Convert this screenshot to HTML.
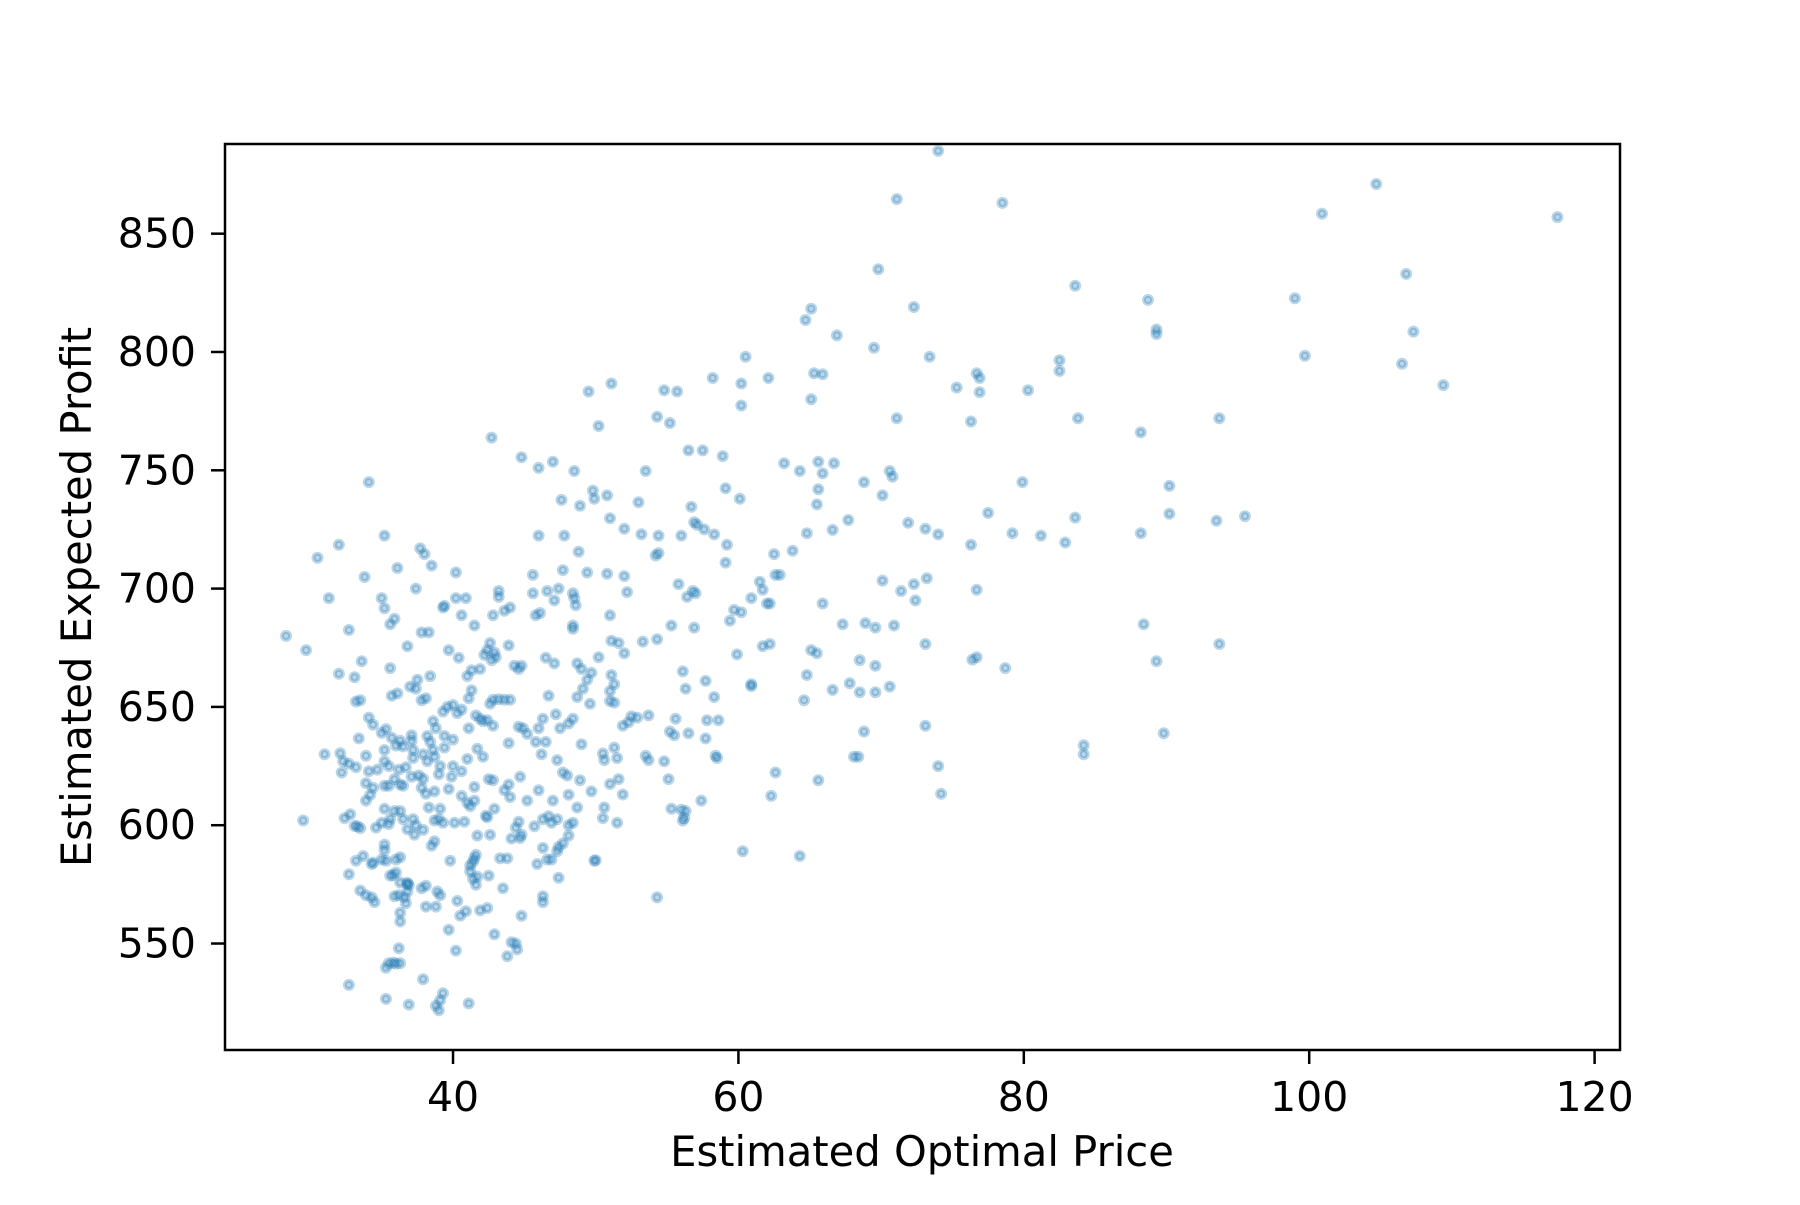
<!DOCTYPE html>
<html><head><meta charset="utf-8"><style>
html,body{margin:0;padding:0;background:#fff;}
svg text{font-family:"DejaVu Sans","Liberation Sans",sans-serif;fill:#000;}
</style></head><body>
<svg id="chart" width="1800" height="1200" viewBox="0 0 1800 1200" xmlns="http://www.w3.org/2000/svg">
<rect x="0" y="0" width="1800" height="1200" fill="#fff"/>
<g id="points"></g>
<rect x="225" y="144" width="1395" height="906" fill="none" stroke="#000" stroke-width="2.5"/>
<g id="xticks"></g>
<g id="yticks"></g>
<text x="922" y="1166" font-size="41.7" text-anchor="middle">Estimated Optimal Price</text>
<text x="0" y="0" font-size="41.7" text-anchor="middle" transform="translate(91,597) rotate(-90)">Estimated Expected Profit</text>
</svg>
<script>
const xTickValues = [40, 60, 80, 100, 120];
const yTickValues = [550, 600, 650, 700, 750, 800, 850];
const priceX = [71.1,74.0,78.5,104.7,100.9,117.4,69.8,106.8,83.6,99.0,88.7,72.3,65.1,64.7,89.3,89.3,107.3,66.9,60.5,69.5,73.4,99.7,82.5,82.5,106.5,65.3,65.9,76.7,76.9,58.2,62.1,51.1,60.2,75.3,109.4,80.3,76.9,49.5,54.8,55.7,65.1,60.2,54.3,55.2,71.1,83.8,93.7,76.3,50.2,88.2,42.7,56.5,57.5,44.8,58.9,47.0,63.2,65.6,66.7,46.0,65.9,48.5,53.5,64.3,70.6,70.8,79.9,68.8,90.2,34.1,59.1,49.8,49.9,65.6,50.8,70.1,65.5,47.6,53.0,48.9,60.1,56.7,77.5,90.2,83.6,95.5,93.5,51.0,56.9,57.1,67.7,57.6,71.9,73.1,66.6,52.0,58.3,47.8,46.0,54.4,56.0,74.0,79.2,81.2,88.2,53.2,64.8,35.2,82.9,59.2,76.3,32.0,37.7,38.0,48.8,63.8,54.2,54.4,62.5,30.5,59.1,38.5,47.7,36.1,40.2,49.4,50.8,45.6,52.0,62.6,62.9,33.8,61.5,70.1,55.8,72.3,73.2,71.4,76.7,37.4,46.6,47.4,43.2,43.2,56.8,57.0,61.7,52.2,45.6,48.4,40.2,40.9,35.0,31.3,56.4,60.9,48.5,48.6,65.9,47.1,62.2,62.0,72.4,39.4,35.2,43.6,44.0,45.8,46.1,51.0,60.2,59.7,40.6,39.3,42.8,59.4,41.5,35.6,35.9,67.3,68.9,69.6,70.9,88.4,55.3,56.9,32.7,48.4,48.4,51.1,51.6,43.9,42.6,36.8,39.7,53.3,54.3,29.7,61.7,62.2,28.3,73.1,93.7,37.8,38.3,42.4,42.2,42.9,43.0,42.7,52.0,59.9,46.5,65.1,65.5,40.4,33.6,76.4,76.7,50.2,68.5,89.3,69.6,48.7,49.0,44.8,44.6,44.3,41.9,47.1,78.7,35.6,56.1,56.3,49.7,49.4,64.8,64.6,51.1,51.3,51.0,38.4,37.5,37.4,41.3,41.0,32.0,33.1,60.9,60.9,67.8,57.7,68.5,69.6,70.6,66.6,49.1,48.7,43.2,58.3,46.7,37.0,38.1,37.8,40.0,41.1,41.3,36.1,35.7,33.2,33.5,42.6,42.8,51.3,51.0,49.6,39.6,43.6,44.0,40.3,47.2,46.3,46.0,41.6,41.9,42.1,42.4,42.8,52.5,52.9,52.3,53.7,55.6,57.8,58.6,51.9,48.1,48.4,34.1,34.4,39.3,40.6,44.6,44.9,45.2,47.5,41.1,35.3,35.0,38.6,38.8,37.1,37.1,73.1,68.8,55.2,55.5,56.5,57.7,89.8,38.2,38.4,39.4,35.7,40.0,33.4,36.3,36.0,36.5,41.7,43.9,45.8,46.5,49.0,51.3,84.2,84.2,39.4,38.6,37.2,37.9,35.2,37.2,33.9,32.1,32.3,31.0,42.1,38.7,38.2,41.0,46.2,47.3,50.5,50.6,51.5,53.5,53.7,58.4,58.5,54.8,68.4,68.1,65.6,74.0,39.1,40.0,36.2,36.7,35.2,35.5,32.7,33.2,34.7,39.0,39.9,37.6,37.9,37.1,40.6,32.2,34.1,42.8,44.7,42.5,47.7,48.0,48.9,51.6,51.0,51.9,55.1,62.6,35.9,35.5,36.3,36.5,33.9,34.4,35.2,37.8,38.1,41.5,43.9,43.6,46.0,39.7,38.7,40.6,34.2,33.9,41.5,41.0,41.2,44.0,45.2,47.0,48.1,49.7,48.7,50.6,55.3,56.0,57.4,56.3,62.3,74.2,42.9,42.3,39.1,38.3,36.3,35.9,35.2,36.5,36.8,32.4,32.8,29.5,33.1,33.5,33.3,34.6,35.0,35.5,35.6,37.2,37.4,38.7,39.0,39.3,40.1,40.8,42.4,44.6,44.4,46.7,46.9,46.3,48.1,48.4,50.5,51.5,56.1,56.2,37.3,37.9,42.6,44.7,44.8,45.7,47.3,35.2,35.2,38.5,38.7,41.7,47.7,48.1,44.1,60.3,64.3,46.3,47.3,47.4,36.3,36.0,33.2,33.7,35.3,35.0,39.8,41.5,41.4,41.6,43.3,43.8,46.6,46.9,49.9,50.0,34.3,34.4,41.2,41.2,42.5,45.9,47.4,32.7,41.6,36.0,36.3,35.6,35.8,36.8,36.9,36.8,37.8,38.1,41.4,41.7,43.5,33.5,33.9,34.3,35.9,36.2,36.8,36.6,38.9,39.1,34.5,36.7,38.1,38.8,40.3,46.3,46.3,42.4,41.9,54.3,36.3,40.5,40.9,44.8,36.3,39.7,42.9,44.1,44.5,44.4,36.2,40.2,43.8,35.5,35.8,36.0,36.3,35.3,37.9,32.7,35.3,36.9,41.1,39.3,39.1,38.8,39.0];
const profitY = [864.6,885.0,863.0,871.0,858.5,857.0,835.0,833.0,828.0,822.7,822.0,819.0,818.3,813.5,809.5,807.6,808.6,807.0,798.0,801.8,798.0,798.4,796.5,792.0,795.0,791.0,790.6,791.0,789.0,789.0,789.0,786.7,786.7,785.0,786.0,783.8,783.0,783.3,783.8,783.3,780.0,777.4,772.6,770.0,772.0,772.0,772.0,770.6,768.7,766.0,763.8,758.4,758.4,755.5,756.0,753.6,753.0,753.6,753.0,751.0,748.7,749.7,749.7,749.7,749.7,747.3,745.0,745.0,743.4,745.0,742.4,741.4,738.0,742.0,739.4,739.4,735.6,737.5,736.5,735.0,738.0,734.6,732.0,731.6,730.0,730.6,728.7,729.7,728.0,727.0,729.0,725.0,727.8,725.3,724.8,725.3,722.9,722.4,722.4,722.4,722.4,722.9,723.4,722.4,723.4,723.0,723.4,722.4,719.5,718.5,718.5,718.5,717.0,714.6,715.6,716.0,714.0,715.0,714.6,713.0,711.0,709.7,707.8,708.7,706.8,706.8,706.3,705.8,705.3,705.8,705.8,704.9,702.9,703.4,701.9,701.9,704.4,699.0,699.5,700.0,699.0,700.0,699.0,696.5,699.0,698.0,699.5,698.5,698.0,698.0,696.0,696.0,696.0,696.0,696.5,696.0,696.0,693.0,693.7,695.0,693.7,693.7,695.0,692.7,691.7,690.6,692.0,688.7,689.7,688.7,690.0,691.0,688.7,692.0,688.7,686.4,684.4,684.9,687.3,684.9,685.4,683.5,684.4,684.9,684.4,683.5,682.5,684.4,683.0,678.0,677.0,676.0,677.0,675.6,674.0,677.6,678.6,674.0,675.6,676.6,680.0,676.6,676.6,681.5,681.5,674.0,672.0,673.0,671.0,669.8,672.7,672.2,670.8,674.0,672.7,670.8,669.3,670.0,671.0,671.0,669.8,669.3,667.4,668.4,666.0,667.4,666.0,667.4,666.0,668.4,666.4,666.4,665.0,657.7,664.4,661.5,663.5,652.8,663.5,659.6,656.7,663.0,661.5,657.7,665.5,663.0,664.0,662.5,659.6,658.8,660.0,661.0,656.2,656.2,658.6,657.2,657.7,654.2,653.2,654.2,654.7,658.6,653.7,652.8,650.8,653.7,657.0,655.7,654.7,652.3,652.8,651.3,653.0,651.8,652.5,651.3,650.0,653.0,653.0,647.4,646.9,645.0,641.0,646.4,645.0,644.0,644.4,642.0,646.0,645.5,643.5,646.4,645.0,644.4,644.4,642.0,643.0,645.0,645.5,642.5,648.0,648.9,641.6,641.0,638.6,641.0,641.0,640.6,639.0,644.0,641.0,638.0,635.7,642.0,639.6,639.6,638.0,638.9,636.7,638.9,637.7,635.2,637.7,637.0,636.2,636.7,635.7,633.7,633.3,632.3,634.7,635.2,635.2,634.2,632.8,633.8,630.0,632.8,631.8,631.8,630.0,631.8,628.4,629.4,630.4,627.0,630.0,628.9,628.9,627.0,628.0,630.0,627.5,630.3,627.5,628.4,629.4,627.5,629.4,628.4,627.0,628.9,628.9,619.0,625.0,625.0,625.0,623.5,624.5,627.0,625.0,626.0,624.5,623.5,621.5,620.5,621.0,619.6,620.5,622.8,622.3,622.8,619.0,620.5,619.5,622.3,621.0,619.0,619.5,617.4,613.0,619.5,622.3,619.5,616.7,617.2,616.7,617.8,615.8,616.7,615.8,613.3,616.2,617.2,614.8,614.8,615.3,614.3,612.4,612.9,610.4,610.4,609.5,608.0,611.9,610.4,610.4,612.9,614.3,607.5,607.5,607.0,606.5,610.4,606.0,612.4,613.3,607.0,604.0,607.0,607.5,606.0,606.0,607.0,602.6,598.3,603.0,604.6,602.0,599.7,598.8,599.5,599.0,601.0,600.5,602.6,602.6,600.0,602.0,602.6,601.0,601.0,601.5,603.4,601.5,599.0,603.8,601.0,602.5,600.0,601.0,603.0,601.0,602.0,603.0,596.0,598.0,596.0,594.6,596.0,599.6,602.6,591.8,589.5,591.3,593.2,595.6,592.3,595.6,594.4,589.0,587.0,590.4,589.0,590.8,586.5,585.5,585.0,587.0,585.0,585.5,585.0,586.0,584.5,587.5,586.0,586.0,585.5,585.5,585.0,585.2,583.6,584.2,583.0,580.5,578.7,583.6,577.8,579.3,574.8,580.0,575.8,578.7,578.9,575.2,574.6,575.6,573.4,574.4,577.3,578.3,573.4,572.4,570.4,569.5,570.0,570.4,572.0,569.5,572.0,570.4,567.5,567.0,565.6,565.6,568.0,570.0,567.5,565.0,564.0,569.5,563.0,561.7,563.6,561.7,559.3,555.8,553.9,550.5,547.5,550.0,548.0,547.0,544.6,541.7,541.9,541.5,541.7,539.8,534.9,532.5,526.6,524.2,524.7,529.0,526.0,523.7,521.8];

const X0 = 24.02, X1 = 121.78, PX0 = 225, PX1 = 1620;
const Y0 = 505.0, Y1 = 887.9, PY0 = 1050, PY1 = 144;
function xScale(v){ return PX0 + (v - X0) / (X1 - X0) * (PX1 - PX0); }
function yScale(v){ return PY0 - (v - Y0) / (Y1 - Y0) * (PY0 - PY1); }
const NS = "http://www.w3.org/2000/svg";

const pg = document.getElementById('points');
const n = Math.min(priceX.length, profitY.length);
for (let i = 0; i < n; i++) {
  const c = document.createElementNS(NS, 'circle');
  c.setAttribute('cx', xScale(priceX[i]).toFixed(1));
  c.setAttribute('cy', yScale(profitY[i]).toFixed(1));
  c.setAttribute('r', '4');
  c.setAttribute('fill', '#1f77b4');
  c.setAttribute('fill-opacity', '0.3');
  c.setAttribute('stroke', '#1f77b4');
  c.setAttribute('stroke-opacity', '0.3');
  c.setAttribute('stroke-width', '4');
  
  
  pg.appendChild(c);
}

const xg = document.getElementById('xticks');
xTickValues.forEach(v => {
  const x = xScale(v);
  const l = document.createElementNS(NS, 'line');
  l.setAttribute('x1', x); l.setAttribute('x2', x);
  l.setAttribute('y1', 1050); l.setAttribute('y2', 1064);
  l.setAttribute('stroke', '#000'); l.setAttribute('stroke-width', '2.5');
  
  
  xg.appendChild(l);
  const t = document.createElementNS(NS, 'text');
  t.setAttribute('x', x); t.setAttribute('y', 1111);
  t.setAttribute('font-size', '41'); t.setAttribute('text-anchor', 'middle');
  t.textContent = v;
  
  
  xg.appendChild(t);
});

const yg = document.getElementById('yticks');
yTickValues.forEach(v => {
  const y = yScale(v);
  const l = document.createElementNS(NS, 'line');
  l.setAttribute('x1', 211); l.setAttribute('x2', 225);
  l.setAttribute('y1', y); l.setAttribute('y2', y);
  l.setAttribute('stroke', '#000'); l.setAttribute('stroke-width', '2.5');
  
  
  yg.appendChild(l);
  const t = document.createElementNS(NS, 'text');
  t.setAttribute('x', 196); t.setAttribute('y', y + 14);
  t.setAttribute('font-size', '41'); t.setAttribute('text-anchor', 'end');
  t.textContent = v;
  
  
  yg.appendChild(t);
});
</script>
</body></html>
